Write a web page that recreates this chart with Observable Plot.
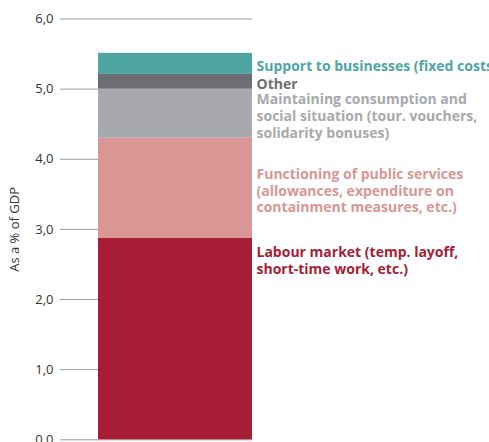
<!DOCTYPE html>
<html>
<head>
<meta charset="utf-8">
<script src="https://cdn.jsdelivr.net/npm/d3@7"></script>
<script src="https://cdn.jsdelivr.net/npm/@observablehq/plot@0.6"></script>
<style>
  html, body { margin: 0; padding: 0; background: #fff; }
  #chart svg { display: block; font-family: "Open Sans", sans-serif; }
</style>
</head>
<body>
<div id="chart"></div>
<script>
// Data (bottom to top of the stacked bar)
const barCategory = ["2020"];
const categories = ["Labour market", "Public services", "Consumption", "Other", "Businesses"];
const values = [2.87, 1.43, 0.70, 0.21, 0.30];
const labels = [
  "Labour market (temp. layoff,\nshort-time work, etc.)",
  "Functioning of public services\n(allowances, expenditure on\ncontainment measures, etc.)",
  "Maintaining consumption and\nsocial situation (tour. vouchers,\nsolidarity bonuses)",
  "Other",
  "Support to businesses (fixed costs)"
];
const colors = ["#a61d35", "#d99694", "#a7a9ac", "#6d6e71", "#4ea5a2"];
const yTicks = [0, 1, 2, 3, 4, 5, 6];
const yLabel = "As a % of GDP";

// Build the table
const tops = d3.cumsum(values);
const rows = categories.map((c, i) => ({
  bar: barCategory[0],
  category: c,
  value: values[i],
  y1: tops[i] - values[i],
  y2: tops[i],
  label: labels[i],
  color: colors[i]
}));
const fmt = d => d.toFixed(1).replace(".", ",");
const barLeft = 98, barRight = 252;
const half = (barRight - barLeft) / 2;

const chart = Plot.plot({
  width: 489,
  height: 442,
  marginLeft: 60,
  marginRight: 237,
  marginTop: 18.5,
  marginBottom: 2.7,
  style: { fontFamily: "Open Sans, sans-serif", overflow: "visible" },
  x: { domain: barCategory, range: [barLeft, barRight], padding: 0, axis: null },
  y: { domain: [0, 6], label: null },
  color: { domain: categories, range: colors },
  marks: [
    Plot.gridY(yTicks, { stroke: "#9a9a9a", strokeOpacity: 1, strokeWidth: 1 }),
    Plot.axisY(yTicks, { tickSize: 0, tickPadding: 7, tickFormat: fmt, fontSize: 13, fill: "#333", label: null }),
    Plot.text([yLabel], { frameAnchor: "left", rotate: -90, dx: -46, fontSize: 13, fill: "#333", textAnchor: "middle" }),
    Plot.barY(rows, { x: "bar", y1: "y1", y2: "y2", fill: "category" }),
    Plot.text(rows.filter((d, i) => i > 0), {
      x: "bar", y: d => (d.y1 + d.y2) / 2, text: "label", fill: "color",
      textAnchor: "start", lineAnchor: "middle", dx: half + 4, dy: 2,
      fontSize: 14, fontWeight: 700, lineHeight: 1.19
    }),
    Plot.text(rows.filter((d, i) => i === 0), {
      x: "bar", y: "y2", text: "label", fill: "color",
      textAnchor: "start", lineAnchor: "top", dx: half + 4, dy: 7,
      fontSize: 14, fontWeight: 700, lineHeight: 1.19
    })
  ]
});
document.getElementById("chart").append(chart);
</script>
</body>
</html>
